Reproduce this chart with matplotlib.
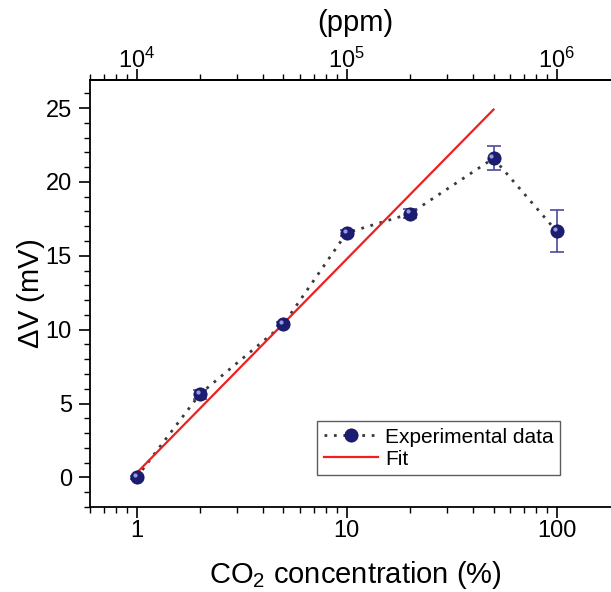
import matplotlib
matplotlib.use("Agg")
import matplotlib.pyplot as plt
from matplotlib.ticker import LogLocator, MultipleLocator, NullFormatter, FixedLocator
from matplotlib.lines import Line2D
from matplotlib.transforms import offset_copy

plt.rcParams['font.family'] = ['Liberation Sans', 'DejaVu Sans']
plt.rcParams['mathtext.fontset'] = 'custom'
plt.rcParams['mathtext.rm'] = 'Liberation Sans'
plt.rcParams['mathtext.it'] = 'Liberation Sans:italic'

# CO2 concentration (%) and response (mV)
conc = [1, 2, 5, 10, 20, 50, 100]
dv = [0.0, 5.64, 10.37, 16.55, 17.85, 21.6, 16.65]
dv_err = [0.1, 0.3, 0.15, 0.2, 0.3, 0.8, 1.42]

# linear fit in log(concentration)
fit_x = [1, 50]
fit_y = [0.3, 24.9]

ppm_ticks = [1e4, 1e5, 1e6]

NAVY = '#1c1c72'


def main():
    fig = plt.figure(figsize=(6.11, 5.92), dpi=100)
    ax = fig.add_axes([90 / 611, 85 / 592, 530 / 611, 427 / 592])

    ax.plot(conc, dv, linestyle=(0, (1, 2.4)), color='#3a3a3a', lw=2.0, zorder=2)
    ax.errorbar(conc, dv, yerr=dv_err, fmt='none', ecolor='#4a4aa0',
                elinewidth=1.2, capsize=5, capthick=1.2, zorder=3)
    ax.plot(fit_x, fit_y, color='#ee2020', lw=1.6, zorder=4)
    ax.plot(conc, dv, linestyle='none', marker='o', ms=9.5, mfc=NAVY,
            mec='#14145a', mew=0.6, zorder=5)
    # small highlight on each marker
    hl = offset_copy(ax.transData, fig=fig, x=-1.5, y=1.7, units='points')
    ax.plot(conc, dv, linestyle='none', marker='o', ms=3.0, mfc='#9a9ad8',
            mec='none', transform=hl, zorder=6)

    ax.set_xscale('log')
    ax.set_xlim(0.6, 200)
    ax.set_ylim(-2, 26.9)
    ax.yaxis.set_major_locator(MultipleLocator(5))
    ax.yaxis.set_minor_locator(MultipleLocator(1))
    ax.xaxis.set_minor_locator(LogLocator(base=10, subs=range(2, 10)))
    ax.xaxis.set_minor_formatter(NullFormatter())
    ax.set_xticks([1, 10, 100])
    ax.set_xticklabels(['1', '10', '100'])

    for sp in ax.spines.values():
        sp.set_linewidth(1.3)
    ax.tick_params(which='major', direction='out', length=8, width=1.2,
                   labelsize=17, pad=5)
    ax.tick_params(axis='x', which='major', pad=1.5)
    ax.tick_params(which='minor', direction='out', length=4, width=1.0)
    ax.tick_params(right=False, top=False)

    ax.set_xlabel('CO$_2$ concentration (%)', fontsize=21, labelpad=12)
    ax.set_ylabel(r'$\Delta$V (mV)', fontsize=21, labelpad=-1)

    top = ax.secondary_xaxis('top', functions=(lambda x: x * 1e4, lambda x: x / 1e4))
    top.xaxis.set_major_locator(FixedLocator(ppm_ticks))
    top.xaxis.set_minor_locator(LogLocator(base=10, subs=range(2, 10)))
    top.xaxis.set_minor_formatter(NullFormatter())
    top.tick_params(which='major', direction='out', length=8, width=1.2,
                    labelsize=17, pad=-3)
    top.tick_params(which='minor', direction='out', length=4, width=1.0)
    top.spines['top'].set_linewidth(1.3)
    top.set_xlabel('(ppm)', fontsize=21, labelpad=12)

    handles = [
        Line2D([], [], linestyle=(0, (1, 2.4)), color='#3a3a3a', lw=2.0,
               marker='o', ms=9.5, mfc=NAVY, mec='#14145a', mew=0.6),
        Line2D([], [], color='#ee2020', lw=1.6),
    ]
    leg = ax.legend(handles, ['Experimental data', 'Fit'], loc='lower left',
                    bbox_to_anchor=(0.429, 0.075), fontsize=15, frameon=True,
                    fancybox=False, edgecolor='#333333', handlelength=2.6,
                    handletextpad=0.35, borderpad=0.3, labelspacing=0.15,
                    borderaxespad=0)
    leg.get_frame().set_linewidth(1.0)

    fig.savefig('out.png', dpi=100)


if __name__ == '__main__':
    main()
